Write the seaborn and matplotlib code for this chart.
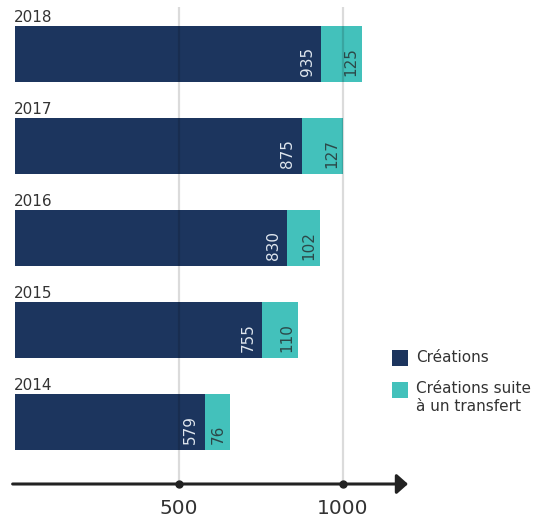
import matplotlib
matplotlib.use("Agg")
import matplotlib.pyplot as plt
import seaborn as sns
import pandas as pd
from matplotlib.patches import Rectangle

# ---- data ----
years = ["2018", "2017", "2016", "2015", "2014"]
creations = [935, 875, 830, 755, 579]
transferts = [125, 127, 102, 110, 76]
x_ticks = [500, 1000]
legend_labels = ["Créations", "Créations suite\nà un transfert"]

NAVY = "#1c355e"
TEAL = "#43c1bb"
TXT = "#333333"

sns.set_theme(style="white")
plt.rcParams["font.family"] = ["DejaVu Sans"]

df = pd.DataFrame({"year": years, "creations": creations, "transferts": transferts})
df["total"] = df["creations"] + df["transferts"]

W, H = 533, 517
fig = plt.figure(figsize=(W / 100, H / 100), dpi=100)
ax = fig.add_axes([15 / W, 33 / H, 393 / W, 477 / H])

bw = 0.609
sns.barplot(data=df, x="total", y="year", order=years, orient="h", color=TEAL,
            saturation=1, width=bw, linewidth=0, ax=ax, zorder=1)
sns.barplot(data=df, x="creations", y="year", order=years, orient="h", color=NAVY,
            saturation=1, width=bw, linewidth=0, ax=ax, zorder=1)

ax.set_xlim(0, 1200)
ax.set_ylim(4.674, -0.511)
for s in ax.spines.values():
    s.set_visible(False)
ax.set_xlabel("")
ax.set_ylabel("")
ax.set_yticks([])
ax.set_xticks(x_ticks)
ax.set_xticklabels([str(t) for t in x_ticks], fontsize=14.5, color=TXT)
ax.tick_params(axis="x", length=0, pad=10.5)

# gridlines drawn over the bars
for t in x_ticks:
    ax.axvline(t, color="black", alpha=0.14, lw=1.6, zorder=3)

# axis arrow
ax.annotate("", xy=(1.0, 0), xytext=(-0.006, 0), xycoords="axes fraction",
            arrowprops=dict(arrowstyle="-|>,head_length=0.45,head_width=0.4",
                            lw=2.2, color="#222222", shrinkA=0, shrinkB=0,
                            mutation_scale=15),
            annotation_clip=False, zorder=5)
ax.plot(x_ticks, [4.674] * len(x_ticks), "o", color="#222222", ms=5,
        clip_on=False, zorder=6)

# labels
for i, (y, c, t) in enumerate(zip(years, creations, transferts)):
    bottom = i + bw / 2
    top = i - bw / 2
    ax.annotate(y, xy=(0, top), xytext=(-1, 3), textcoords="offset points",
                ha="left", va="baseline", fontsize=11, color=TXT)
    ax.annotate(str(c), xy=(c, bottom), xytext=(-4.5, 4), textcoords="offset points",
                rotation=90, ha="right", va="bottom", fontsize=11, color="#dfe6ee",
                zorder=4)
    ax.annotate(str(t), xy=(c + t, bottom), xytext=(-3, 4), textcoords="offset points",
                rotation=90, ha="right", va="bottom", fontsize=11, color="#2c4848",
                zorder=4)

# legend (manual, in figure pixels from top-left)
def fx(px):
    return px / W

def fy(py):
    return 1 - py / H

sq = 16
fig.add_artist(Rectangle((fx(392), fy(350 + sq)), sq / W, sq / H, color=NAVY,
                         transform=fig.transFigure, lw=0))
fig.add_artist(Rectangle((fx(392), fy(382 + sq)), sq / W, sq / H, color=TEAL,
                         transform=fig.transFigure, lw=0))
fig.text(fx(416), fy(358), legend_labels[0], fontsize=11, color=TXT,
         ha="left", va="center")
fig.text(fx(416), fy(381), legend_labels[1], fontsize=11, color=TXT,
         ha="left", va="top", linespacing=1.25)

fig.savefig("out.png", dpi=100)
